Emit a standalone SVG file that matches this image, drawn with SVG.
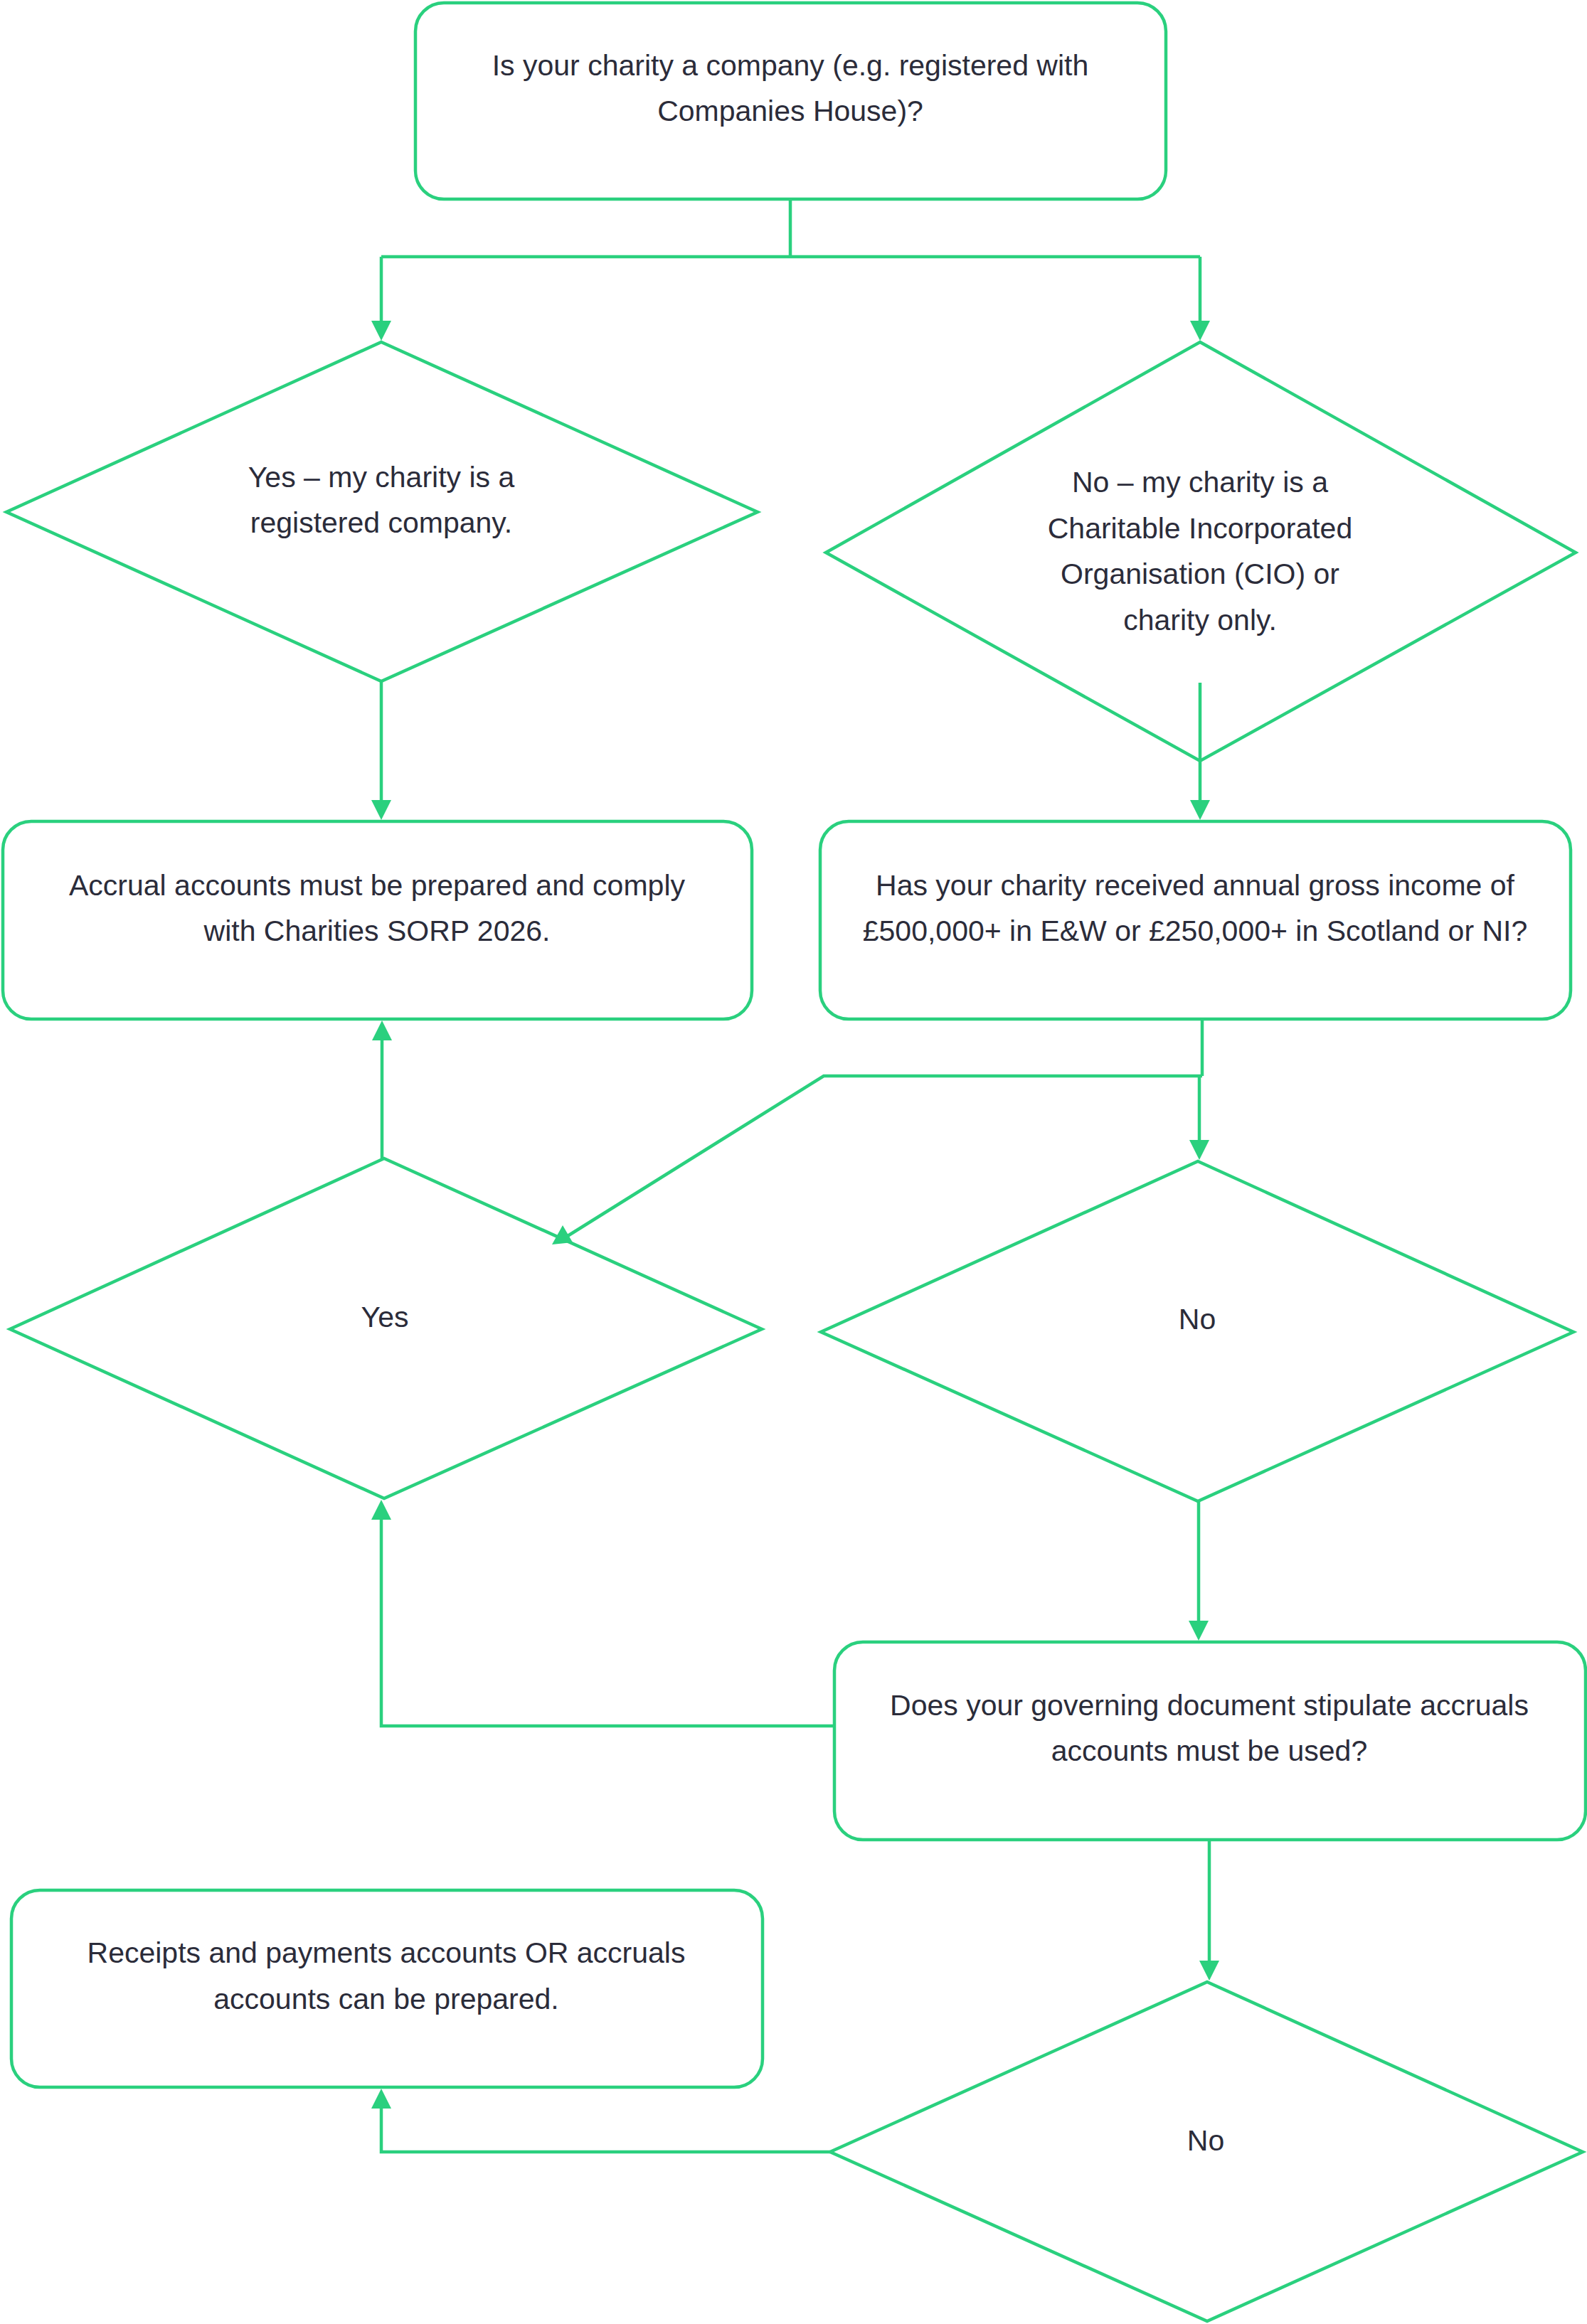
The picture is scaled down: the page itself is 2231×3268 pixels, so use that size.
<svg xmlns="http://www.w3.org/2000/svg" width="2231" height="3268" viewBox="0 0 2231 3268">
<style>
.shape{fill:#ffffff;stroke:#2ad07e;stroke-width:4.5}
.line{fill:none;stroke:#2ad07e;stroke-width:4.5}
.arr{fill:#2ad07e;stroke:none}
.t{font-family:"Liberation Sans",Arial,sans-serif;font-size:41px;fill:#2b2c3a;text-anchor:middle}
</style>
<defs>
<marker id="ah" viewBox="0 0 28 28" refX="18" refY="14" markerWidth="28" markerHeight="28" markerUnits="userSpaceOnUse" orient="auto">
<path d="M0,0 L28,14 L0,28 Z" fill="#2ad07e"/>
</marker>
</defs>
<rect width="2231" height="3268" fill="#ffffff"/>

<g id="n-company">
<rect class="shape" x="584" y="4" width="1055" height="276" rx="40"/>
<text class="t" x="1111" y="106">Is your charity a company (e.g. registered with</text>
<text class="t" x="1111" y="170">Companies House)?</text>
</g>

<g id="n-yes-company">
<polygon class="shape" points="536,481 1065,720 536,958 9,720"/>
<text class="t" x="536" y="685">Yes – my charity is a</text>
<text class="t" x="536" y="749">registered company.</text>
</g>

<g id="n-no-company">
<polygon class="shape" points="1687,481 2215,777 1687,1070 1161,777"/>
<text class="t" x="1687" y="692">No – my charity is a</text>
<text class="t" x="1687" y="757">Charitable Incorporated</text>
<text class="t" x="1687" y="821">Organisation (CIO) or</text>
<text class="t" x="1687" y="886">charity only.</text>
</g>

<g id="n-accrual">
<rect class="shape" x="4" y="1155" width="1053" height="278" rx="40"/>
<text class="t" x="530" y="1259">Accrual accounts must be prepared and comply</text>
<text class="t" x="530" y="1323">with Charities SORP 2026.</text>
</g>

<g id="n-income">
<rect class="shape" x="1153" y="1155" width="1055" height="278" rx="40"/>
<text class="t" x="1680" y="1259">Has your charity received annual gross income of</text>
<text class="t" x="1680" y="1323">£500,000+ in E&amp;W or £250,000+ in Scotland or NI?</text>
</g>

<g id="n-yes-income">
<polygon class="shape" points="540,1629 1071,1869 540,2107 14,1869"/>
<text class="t" x="541" y="1866">Yes</text>
</g>

<g id="n-no-income">
<polygon class="shape" points="1684,1633 2212,1873 1684,2111 1154,1873"/>
<text class="t" x="1683" y="1869">No</text>
</g>

<g id="n-governing">
<rect class="shape" x="1173" y="2309" width="1056" height="278" rx="40"/>
<text class="t" x="1700" y="2412">Does your governing document stipulate accruals</text>
<text class="t" x="1700" y="2476">accounts must be used?</text>
</g>

<g id="n-no-governing">
<polygon class="shape" points="1697,2787 2225,3026 1697,3264 1167,3026"/>
<text class="t" x="1695" y="3024">No</text>
</g>

<g id="n-receipts">
<rect class="shape" x="16" y="2658" width="1056" height="277" rx="40"/>
<text class="t" x="543" y="2760">Receipts and payments accounts OR accruals</text>
<text class="t" x="543" y="2825">accounts can be prepared.</text>
</g>

<g id="connectors">
<path class="line" d="M1111,280 V361"/>
<path class="line" d="M536,361 H1687"/>
<path class="line" d="M536,361 V469" marker-end="url(#ah)"/>
<path class="line" d="M1687,361 V469" marker-end="url(#ah)"/>
<path class="line" d="M536,958 V1143" marker-end="url(#ah)"/>
<path class="line" d="M1687,960 V1143" marker-end="url(#ah)"/>
<path class="line" d="M1690,1433 V1513"/>
<path class="line" d="M1690,1513 H1158 L798,1738"/>
<polygon class="arr" points="791,1723 776,1750 805,1747"/>
<path class="line" d="M1686,1513 V1621" marker-end="url(#ah)"/>
<path class="line" d="M537,1629 V1445" marker-end="url(#ah)"/>
<path class="line" d="M1685,2111 V2297" marker-end="url(#ah)"/>
<path class="line" d="M1173,2427 H536 V2119" marker-end="url(#ah)"/>
<path class="line" d="M1700,2587 V2775" marker-end="url(#ah)"/>
<path class="line" d="M1167,3026 H536 V2947" marker-end="url(#ah)"/>
</g>
</svg>
